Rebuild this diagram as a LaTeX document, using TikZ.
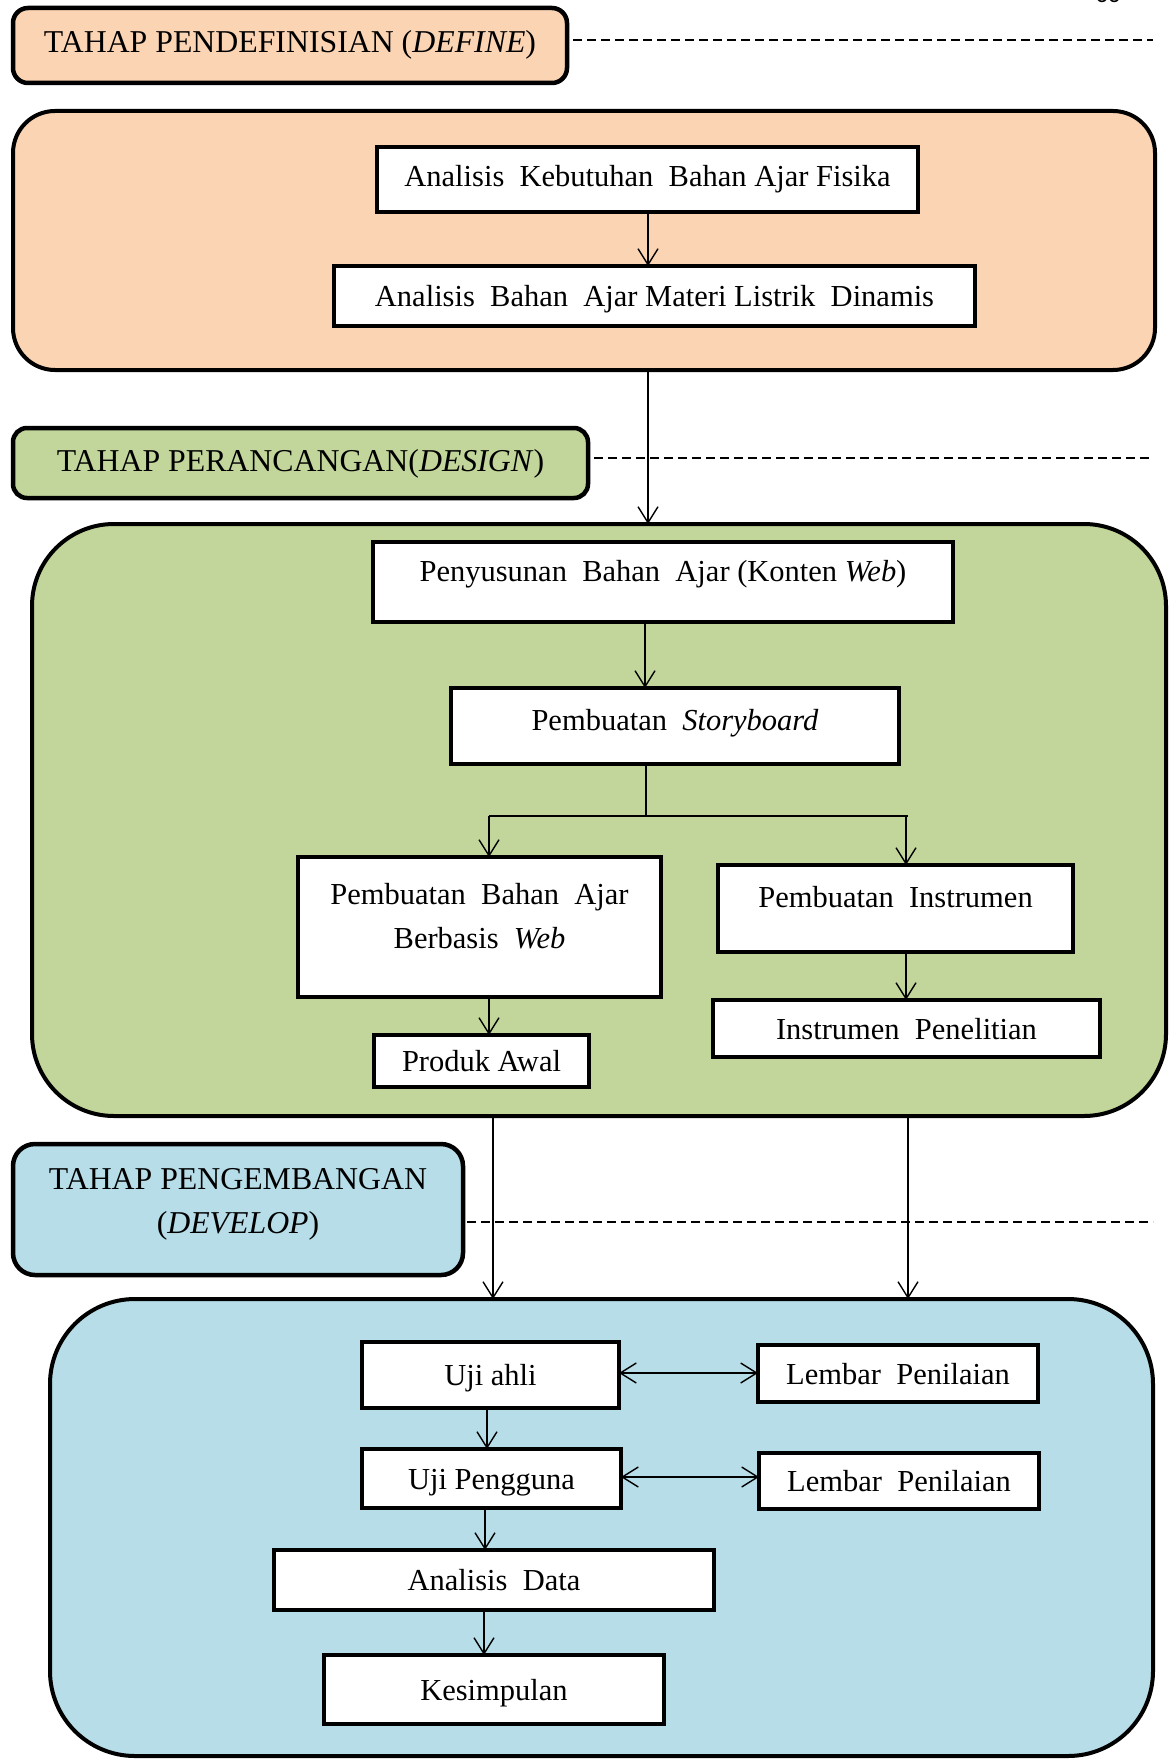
\documentclass[tikz,border=0pt]{standalone}
\usepackage{fontspec}
\setmainfont{Liberation Serif}
\newfontfamily\pagefont{Carlito}
\usetikzlibrary{arrows.meta,calc}
\definecolor{peach}{HTML}{FBD4B4}
\definecolor{olivefill}{HTML}{C2D69B}
\definecolor{aquafill}{HTML}{B6DDE8}
\begin{document}
\begin{tikzpicture}[x=1pt,y=-1pt,
  every node/.style={font=\fontsize{30.5}{44}\selectfont, inner sep=0pt, outer sep=0pt},
  stepbox/.style={draw, line width=4.5pt, fill=white, text height=21pt, text depth=0pt, align=center},
  phase/.style={draw, line width=4pt, rounded corners=#1},
  tagbox/.style={draw, line width=4.5pt, rounded corners=#1, align=center},
  tagfont/.style={font=\fontsize{31.8}{44}\selectfont},
  conn/.style={line width=1.4pt, -{Straight Barb[length=16pt,width=20pt,line width=1.4pt]}},
  biconn/.style={line width=1.4pt, {Straight Barb[length=16pt,width=20pt,line width=1.4pt]}-{Straight Barb[length=16pt,width=20pt,line width=1.4pt]}},
  plainline/.style={line width=1.4pt},
  guide/.style={line width=1.5pt, dash pattern=on 9pt off 5pt}]
\useasboundingbox (0,0) rectangle (1170,1760);

% page number (cut off at the top)
\node[font=\pagefont\fontsize{24}{24}\selectfont, anchor=base] (pagenum) at (1108,3) {33};

% ---------- DEFINE ----------
\node[tagbox=15pt, tagfont, fill=peach, minimum width=554, minimum height=75, text height=21pt, text depth=6pt] (deftag) at (290,45.5) {TAHAP PENDEFINISIAN (\textit{DEFINE})};
\coordinate (g1) at (1153,40);
\draw[guide] ([xshift=6pt]deftag.east |- g1) -- (g1);

\node[phase=42pt, fill=peach, minimum width=1142, minimum height=259] (defbig) at (584,240.5) {};
\node[stepbox, minimum width=541, minimum height=65, text depth=6pt] (k1) at (647.5,179.5) {Analisis \ Kebutuhan \ Bahan Ajar Fisika};
\node[stepbox, minimum width=641, minimum height=60] (k2) at (654.5,296) {Analisis \ Bahan \ Ajar Materi Listrik \ Dinamis};
\coordinate (xa) at (648,0);
\draw[conn] (k1.south -| xa) -- (k2.north -| xa);

% ---------- DESIGN ----------
\node[tagbox=14pt, tagfont, fill=olivefill, minimum width=575, minimum height=70, text height=21pt, text depth=4pt] (destag) at (300.5,463) {TAHAP PERANCANGAN(\textit{DESIGN})};
\coordinate (g2) at (1153,458);
\draw[guide] ([xshift=6pt]destag.east |- g2) -- (g2);

\node[phase=82pt, fill=olivefill, minimum width=1134, minimum height=592] (desbig) at (599,820) {};
\draw[conn] (defbig.south -| xa) -- (desbig.north -| xa);

\node[stepbox, minimum width=580, minimum height=80, text depth=22pt] (pen) at (663,582) {Penyusunan \ Bahan \ Ajar (Konten \textit{Web})};
\node[stepbox, minimum width=448, minimum height=76, text depth=12pt] (story) at (675,726) {Pembuatan \ \textit{Storyboard}};
\coordinate (xb) at (645,0);
\draw[conn] (pen.south -| xb) -- (story.north -| xb);

\node[stepbox, minimum width=363, minimum height=140,
  label={[yshift=11pt, align=center]center:Pembuatan \ Bahan \ Ajar\\Berbasis \ \textit{Web}}] (pb) at (479.5,927) {};
\node[stepbox, minimum width=355, minimum height=87, text depth=24pt] (pi) at (895.5,908.5) {Pembuatan \ Instrumen};
\node[stepbox, minimum width=387, minimum height=57] (ip) at (906.5,1028.5) {Instrumen \ Penelitian};
\node[stepbox, minimum width=215, minimum height=52] (pa) at (481.5,1061) {Produk Awal};

\coordinate (jn) at (646,816);
\coordinate (xl) at (489,0);
\coordinate (xr) at (906,0);
\draw[plainline] (story.south -| jn) -- (jn);
\draw[plainline] (jn -| xl) -- ([xshift=2pt]jn -| xr);
\draw[conn] (jn -| xl) -- (pb.north -| xl);
\draw[conn] (jn -| xr) -- (pi.north -| xr);
\draw[conn] (pi.south -| xr) -- (ip.north -| xr);
\draw[conn] (pb.south -| xl) -- (pa.north -| xl);

% ---------- DEVELOP ----------
\node[tagbox=22pt, fill=aquafill, minimum width=450, minimum height=131,
  label={[tagfont, yshift=5pt, align=center]center:TAHAP PENGEMBANGAN\\(\textit{DEVELOP})}] (devtag) at (238,1209.5) {};
\coordinate (g3) at (1153,1222);
\draw[guide] ([xshift=4pt]devtag.east |- g3) -- (g3);

\node[phase=85pt, fill=aquafill, minimum width=1103, minimum height=457] (devbig) at (601.5,1527.5) {};
\coordinate (xc) at (493,0);
\coordinate (xd) at (908,0);
\draw[conn] (desbig.south -| xc) -- (devbig.north -| xc);
\draw[conn] (desbig.south -| xd) -- (devbig.north -| xd);

\node[stepbox, minimum width=257, minimum height=66] (uja) at (490.5,1375) {Uji ahli};
\node[stepbox, minimum width=280, minimum height=57] (lp1) at (898,1373.5) {Lembar \ Penilaian};
\node[stepbox, minimum width=259, minimum height=59] (ujp) at (491.5,1478.5) {Uji Pengguna};
\node[stepbox, minimum width=280, minimum height=56] (lp2) at (899,1481) {Lembar \ Penilaian};
\node[stepbox, minimum width=440, minimum height=60] (ad) at (494,1580) {Analisis \ Data};
\node[stepbox, minimum width=340, minimum height=69] (ks) at (494,1689.5) {Kesimpulan};

\coordinate (ya) at (0,1373);
\coordinate (yb) at (0,1477);
\draw[biconn] (uja.east |- ya) -- (lp1.west |- ya);
\draw[biconn] (ujp.east |- yb) -- (lp2.west |- yb);
\coordinate (xe) at (487,0);
\coordinate (xf) at (485,0);
\coordinate (xg) at (484,0);
\draw[conn] (uja.south -| xe) -- (ujp.north -| xe);
\draw[conn] (ujp.south -| xf) -- (ad.north -| xf);
\draw[conn] (ad.south -| xg) -- (ks.north -| xg);
\end{tikzpicture}
\end{document}
